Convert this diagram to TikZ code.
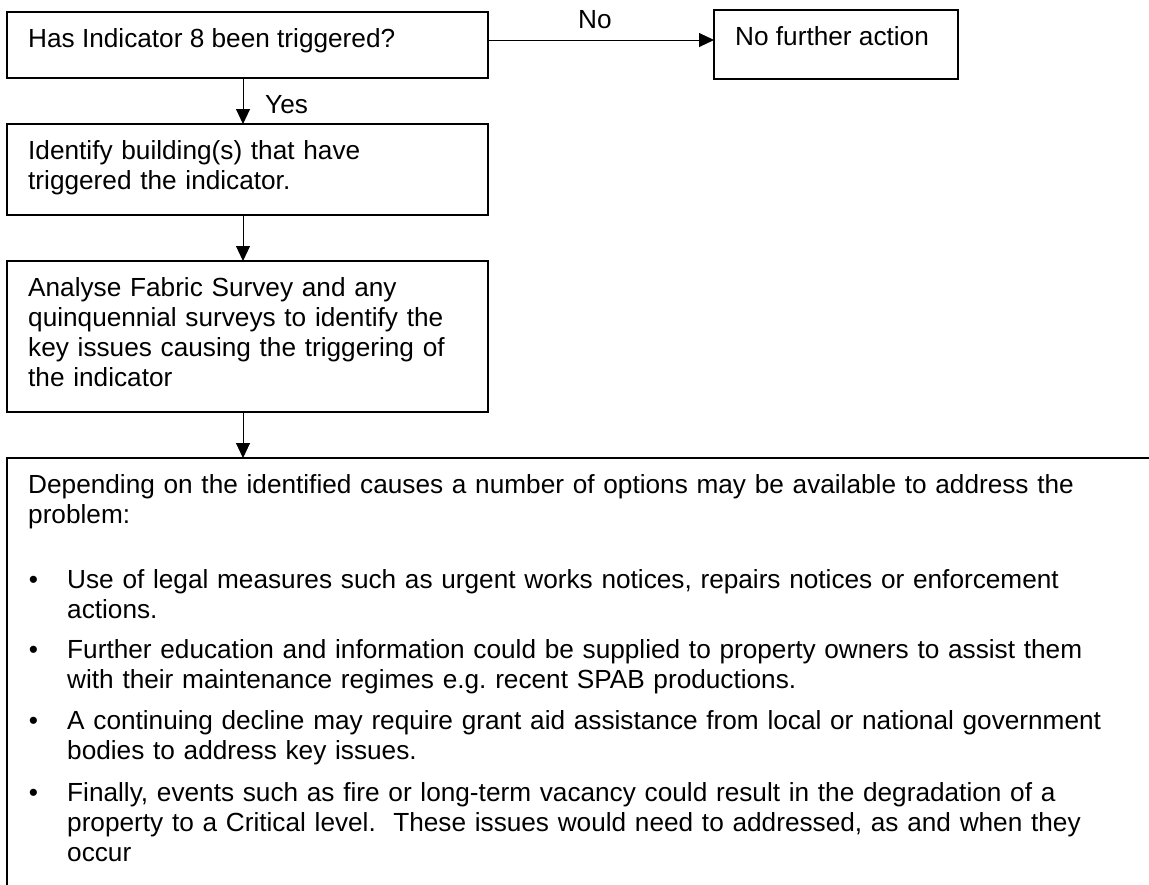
\documentclass[tikz,border=0pt]{standalone}
\usepackage{fontspec}
\setmainfont{Liberation Sans}
\usetikzlibrary{arrows.meta}

\begin{document}
\frenchspacing
\begin{tikzpicture}[x=1pt,y=-1pt,
  box/.style={draw=black, line width=1.4pt, rectangle, inner sep=0pt, outer sep=0pt, anchor=north west},
  body/.style={font=\fontsize{26.2}{30}\selectfont, inner sep=0pt, anchor=base west, align=left, text width=1075pt},
  lbl/.style={font=\fontsize{26.2}{30}\selectfont, inner sep=0pt, anchor=base west},
  bul/.style={font=\fontsize{26.2}{30}\selectfont, inner sep=0pt, anchor=base},
  arr/.style={draw=black, line width=1pt, -{Triangle[length=15pt,width=14pt]}}]
\useasboundingbox (0,0) rectangle (1149,884);
\clip (0,0) rectangle (1149,884);

% reference rows and columns for the connectors
\coordinate (row) at (0,40);
\coordinate (col) at (243,0);

% boxes
\node[box, minimum width=481pt, minimum height=66pt]  (q)    at (7,12)  {};
\node[box, minimum width=244pt, minimum height=69pt]  (none) at (714,10) {};
\node[box, minimum width=481pt, minimum height=91pt]  (id)   at (7,124) {};
\node[box, minimum width=481pt, minimum height=151pt] (an)   at (7,261) {};
\node[box, minimum width=1400pt, minimum height=700pt] (opt) at (7,458) {};

% box texts
\node[lbl] (qt) at (28,47) {Has Indicator 8 been triggered?};
\node[lbl] (nt) at (735,45) {No further action};
\node[body] (idt) at (28,159) {Identify building(s) that have\\triggered the indicator.};
\node[body] (ant) at (28,296) {Analyse Fabric Survey and any\\quinquennial surveys to identify the\\key issues causing the triggering of\\the indicator};
\node[body] (optt) at (28,493) {Depending on the identified causes a number of options may be available to address the\\problem:};

% bullet list
\node[bul] (d1) at (33.5,588) {•};
\node[body] (o1) at (67,588) {Use of legal measures such as urgent works notices, repairs notices or enforcement\\actions.};
\node[bul] (d2) at (33.5,658) {•};
\node[body] (o2) at (67,658) {Further education and information could be supplied to property owners to assist them\\with their maintenance regimes e.g. recent SPAB productions.};
\node[bul] (d3) at (33.5,729) {•};
\node[body] (o3) at (67,729) {A continuing decline may require grant aid assistance from local or national government\\bodies to address key issues.};
\node[bul] (d4) at (33.5,801) {•};
\node[body] (o4) at (67,801) {Finally, events such as fire or long-term vacancy could result in the degradation of a\\property to a Critical level.\ \ These issues would need to addressed, as and when they\\occur};

% connectors
\draw[arr] (q.east |- row) -- (none.west |- row);
\node[lbl] (no) at (578,28) {No};
\draw[arr] (q.south -| col) -- (id.north -| col);
\node[lbl] (yes) at (265,113) {Yes};
\draw[arr] (id.south -| col) -- (an.north -| col);
\draw[arr] (an.south -| col) -- (opt.north -| col);
\end{tikzpicture}
\end{document}
